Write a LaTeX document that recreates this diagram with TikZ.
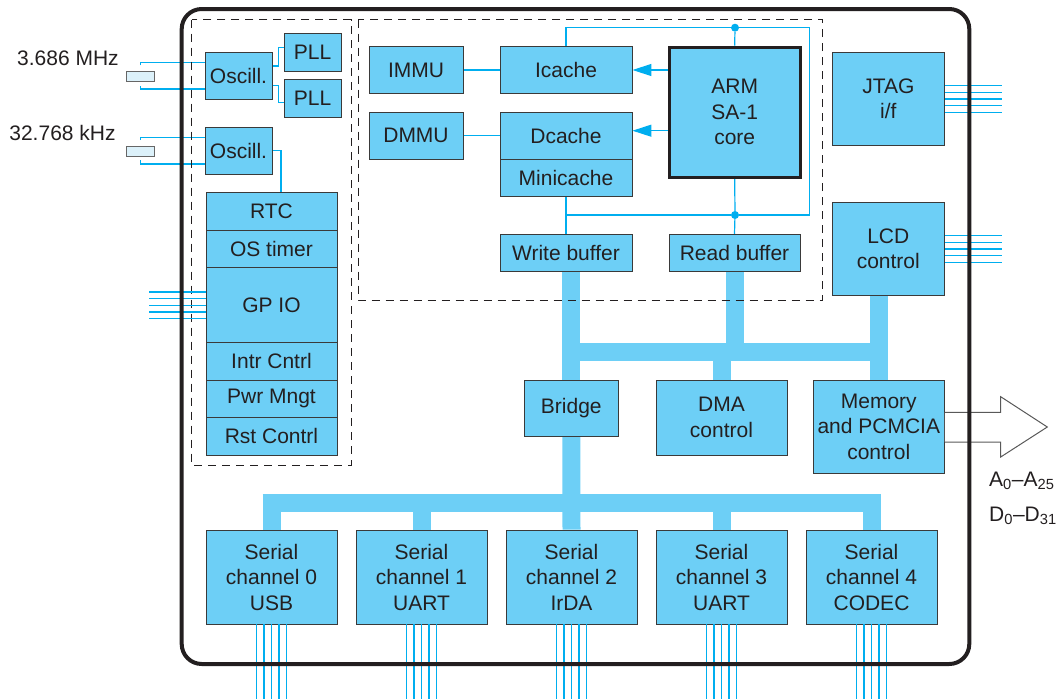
\documentclass[tikz,border=0pt]{standalone}
\usepackage{fontspec}
\setmainfont{Liberation Sans}
\usetikzlibrary{arrows.meta, backgrounds}

\definecolor{blkfill}{HTML}{6DCFF6}
\definecolor{blkline}{HTML}{3A3A3A}
\definecolor{sigblue}{HTML}{00AEEF}
\definecolor{ink}{HTML}{231F20}
\definecolor{xtalfill}{HTML}{DCF1FA}

\tikzset{
  blk/.style={draw=blkline, fill=blkfill, line width=0.9pt, inner sep=0pt, align=center, text=ink},
  core/.style={blk, draw=ink, line width=3.2pt},
  sig/.style={draw=sigblue, line width=1.2pt},
  sigarrow/.style={sig, -{Triangle[length=19pt, width=12pt]}},
  bus/.style={draw=blkfill, line width=18pt},
  dot/.style={circle, fill=sigblue, inner sep=0pt, minimum size=8pt},
  frame/.style={draw=ink, dash pattern=on 8pt off 6pt, line width=1pt},
  chip/.style={draw=ink, line width=4pt, rounded corners=20pt},
  xtal/.style={draw=gray!80!black, fill=xtalfill, line width=0.8pt, inner sep=0pt, minimum width=28.5pt, minimum height=9.5pt},
  hollow/.style={draw=gray!70!black, line width=1pt, fill=white},
  lbl/.style={text=ink, inner sep=0pt}
}

\begin{document}
\begin{tikzpicture}[x=1pt, y=-1pt, font=\fontsize{21}{25.5}\selectfont]
\useasboundingbox (0,0) rectangle (1061,699);

\draw[frame] (191.7,19.5) rectangle (351,465);
\draw[frame] (358,19.5) rectangle (822.5,300);

\node[lbl, anchor=base] (f1) at (68,65.7) {3.686 MHz};
\node[lbl, anchor=base] (f2) at (62.5,140) {32.768 kHz};
\node[xtal] (xtal1) at (140.3,76.5) {};
\node[xtal] (xtal2) at (140.3,151.3) {};

\node[blk, minimum width=67pt, minimum height=47pt] (osc1) at (238.5,75.5) {Oscill.};
\node[blk, minimum width=57pt, minimum height=38pt] (pll1) at (312.5,52) {PLL};
\node[blk, minimum width=57pt, minimum height=38pt] (pll2) at (312.5,98.5) {PLL};
\node[blk, minimum width=67pt, minimum height=47pt] (osc2) at (238.5,150.5) {Oscill.};

\node[blk, minimum width=131pt, minimum height=37.5pt] (rtc) at (271.5,211.3) {RTC};
\node[blk, minimum width=131pt, minimum height=37.5pt] (ostimer) at (271.5,248.8) {OS timer};
\node[blk, minimum width=131pt, minimum height=75pt] (gpio) at (271.5,305.2) {GP IO};
\node[blk, minimum width=131pt, minimum height=37.5pt] (intr) at (271.5,361.3) {Intr Cntrl};
\node[blk, minimum width=131pt, minimum height=37.5pt] (pwr) at (271.5,398.8) {Pwr Mngt};
\node[blk, minimum width=131pt, minimum height=37.5pt] (rst) at (271.5,436.3) {Rst Contrl};

\node[blk, minimum width=94pt, minimum height=47pt] (immu) at (416,70) {IMMU};
\node[blk, minimum width=132pt, minimum height=47pt] (icache) at (566,70) {Icache};
\node[blk, minimum width=94pt, minimum height=47pt] (dmmu) at (416,135.7) {DMMU};
\node[blk, minimum width=132pt, minimum height=47pt] (dcache) at (566,135.7) {Dcache};
\node[blk, minimum width=132pt, minimum height=37.5pt] (minicache) at (566,177.7) {Minicache};
\node[core, minimum width=131pt, minimum height=130pt] (arm) at (734.7,112.2) {ARM\\SA-1\\core};
\node[blk, minimum width=132pt, minimum height=37.5pt] (wbuf) at (566,253) {Write buffer};
\node[blk, minimum width=131pt, minimum height=37.5pt] (rbuf) at (734.5,253) {Read buffer};

\node[blk, minimum width=112.5pt, minimum height=93.4pt] (jtag) at (888.3,99) {JTAG\\i/f};
\node[blk, minimum width=112.5pt, minimum height=93.3pt] (lcd) at (888.3,249) {LCD\\control};

\node[blk, minimum width=94pt, minimum height=56pt] (bridge) at (571.3,408) {Bridge};
\node[blk, minimum width=131pt, minimum height=75pt] (dma) at (721.5,417.5) {DMA\\control};
\node[blk, minimum width=131pt, minimum height=93.3pt] (mem) at (878.8,426.7) {Memory\\and PCMCIA\\control};

\node[blk, minimum width=131pt, minimum height=94pt] (ser0) at (271.5,577) {Serial\\channel 0\\USB};
\node[blk, minimum width=131pt, minimum height=94pt] (ser1) at (421.5,577) {Serial\\channel 1\\UART};
\node[blk, minimum width=131pt, minimum height=94pt] (ser2) at (571.5,577) {Serial\\channel 2\\IrDA};
\node[blk, minimum width=131pt, minimum height=94pt] (ser3) at (721.5,577) {Serial\\channel 3\\UART};
\node[blk, minimum width=131pt, minimum height=94pt] (ser4) at (871.5,577) {Serial\\channel 4\\CODEC};

\node[dot] (dtop) at (735,27.7) {};
\node[dot] (dbot) at (735,215) {};

\node[lbl, anchor=base west] (addr) at (989,486) {A\textsubscript{0}–A\textsubscript{25}};
\node[lbl, anchor=base west] (data) at (989,521.7) {D\textsubscript{0}–D\textsubscript{31}};
\coordinate (addrtip) at (1047.3,427);

\begin{scope}[on background layer]
\draw[bus] (bridge.north |- wbuf.south) -- (bridge.north);
\draw[bus] (bridge.south) -- (ser2.north);
\draw[bus] (562.3,352) -- (888.3,352);
\draw[bus] (rbuf.south) -- (rbuf.south |- 0,352);
\draw[bus] (dma.north |- 0,352) -- (dma.north);
\draw[bus] (lcd.south -| mem.north) -- (mem.north);
\draw[bus] (262.5,502.5) -- (880.5,502.5);
\draw[bus] (ser0.north |- 0,502.5) -- (ser0.north);
\draw[bus] (ser1.north |- 0,502.5) -- (ser1.north);
\draw[bus] (ser3.north |- 0,502.5) -- (ser3.north);
\draw[bus] (ser4.north |- 0,502.5) -- (ser4.north);

\draw[sig] ([yshift=6]xtal1.north) |- ([yshift=13]osc1.west);
\draw[sig] ([yshift=-4.4]xtal1.south) |- ([yshift=-13.5]osc1.west);
\draw[sig] ([yshift=6]xtal2.north) |- ([yshift=13.2]osc2.west);
\draw[sig] ([yshift=-4]xtal2.south) |- ([yshift=-13.5]osc2.west);
\draw[sig] ([yshift=9.5]osc1.east) -- ++(6,0) |- ([yshift=4.7]pll1.west);
\draw[sig] ([yshift=-10.2]osc1.east) -- ++(6,0) |- ([yshift=-4.2]pll2.west);
\draw[sig] (osc2.east) -| ([xshift=9.5]rtc.north);

\draw[sig] (immu) -- (icache);
\draw[sig] (dmmu) -- (dcache);
\draw[sig] (icache.north) |- (dtop) -- (809.3,27.7) |- (dbot) -- (dbot -| minicache.south);
\draw[sig] (arm.north) -- (dtop);
\draw[sig] (arm.south) -- (dbot) -- (rbuf.north);
\draw[sig] (minicache.south) -- (wbuf.north);
\end{scope}

\coordinate (dc) at ([yshift=5]dcache.east);
\draw[sigarrow] (arm.west |- icache.east) -- (icache.east);
\draw[sigarrow] (arm.west |- dc) -- (dc);

\draw[sig] ([yshift=13.3]gpio.west) -- ++(-57,0) ([yshift=6.7]gpio.west) -- ++(-57,0) (gpio.west) -- ++(-57,0) ([yshift=-6.7]gpio.west) -- ++(-57,0) ([yshift=-13.3]gpio.west) -- ++(-57,0);
\draw[sig] ([yshift=13.3]jtag.east) -- ++(56.5,0) ([yshift=6.7]jtag.east) -- ++(56.5,0) (jtag.east) -- ++(56.5,0) ([yshift=-6.7]jtag.east) -- ++(56.5,0) ([yshift=-13.3]jtag.east) -- ++(56.5,0);
\draw[sig] ([yshift=13.3]lcd.east) -- ++(56.5,0) ([yshift=6.7]lcd.east) -- ++(56.5,0) (lcd.east) -- ++(56.5,0) ([yshift=-6.7]lcd.east) -- ++(56.5,0) ([yshift=-13.3]lcd.east) -- ++(56.5,0);
\draw[sig] ([xshift=-15]ser0.south) -- ++(0,75) ([xshift=-7.5]ser0.south) -- ++(0,75) (ser0.south) -- ++(0,75) ([xshift=7.5]ser0.south) -- ++(0,75) ([xshift=15]ser0.south) -- ++(0,75);
\draw[sig] ([xshift=-15]ser1.south) -- ++(0,75) ([xshift=-7.5]ser1.south) -- ++(0,75) (ser1.south) -- ++(0,75) ([xshift=7.5]ser1.south) -- ++(0,75) ([xshift=15]ser1.south) -- ++(0,75);
\draw[sig] ([xshift=-15]ser2.south) -- ++(0,75) ([xshift=-7.5]ser2.south) -- ++(0,75) (ser2.south) -- ++(0,75) ([xshift=7.5]ser2.south) -- ++(0,75) ([xshift=15]ser2.south) -- ++(0,75);
\draw[sig] ([xshift=-15]ser3.south) -- ++(0,75) ([xshift=-7.5]ser3.south) -- ++(0,75) (ser3.south) -- ++(0,75) ([xshift=7.5]ser3.south) -- ++(0,75) ([xshift=15]ser3.south) -- ++(0,75);
\draw[sig] ([xshift=-15]ser4.south) -- ++(0,75) ([xshift=-7.5]ser4.south) -- ++(0,75) (ser4.south) -- ++(0,75) ([xshift=7.5]ser4.south) -- ++(0,75) ([xshift=15]ser4.south) -- ++(0,75);

\draw[hollow] ([yshift=14.4]mem.east) -- (1000.7,412.3) -- (1000.7,396.7) -- (addrtip) -- (1000.7,457) -- (1000.7,442) -- ([yshift=-15.3]mem.east);

\draw[chip] (181.7,9) rectangle (969.3,664);
\end{tikzpicture}
\end{document}
